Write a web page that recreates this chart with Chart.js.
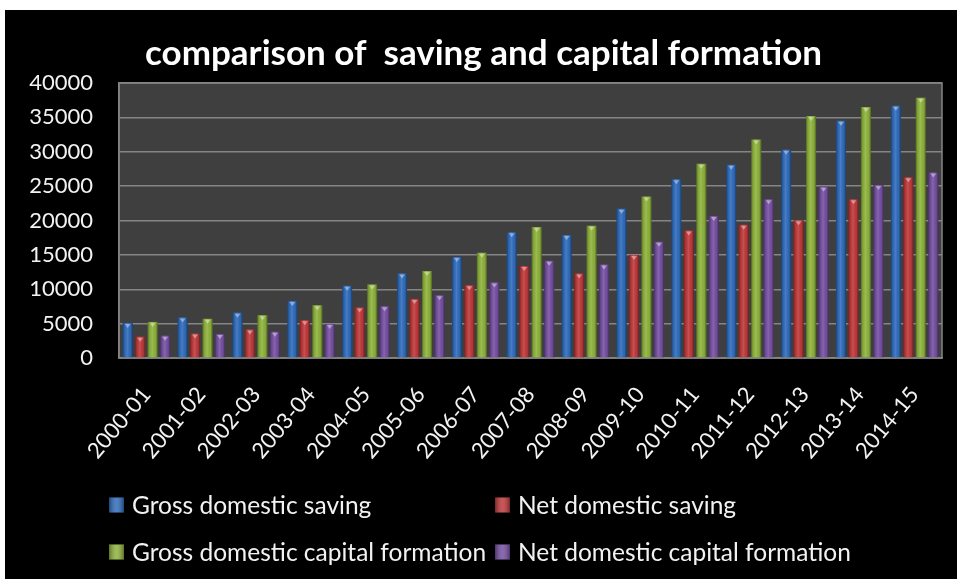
<!DOCTYPE html>
<html>
<head>
<meta charset="utf-8">
<script src="https://cdn.jsdelivr.net/npm/chart.js@4.4.1/dist/chart.umd.min.js"></script>
<style>
  html, body { margin: 0; padding: 0; background: #fff; }
  #frame { position: absolute; left: 5px; top: 10px; width: 952px; height: 569px; background: #000; }
</style>
</head>
<body>
<div id="frame"><canvas id="chart" width="952" height="569"></canvas></div>
<script>
// years
var years = ["2000-01", "2001-02", "2002-03", "2003-04", "2004-05", "2005-06", "2006-07", "2007-08",
             "2008-09", "2009-10", "2010-11", "2011-12", "2012-13", "2013-14", "2014-15"];

var grossSaving = [5100, 5900, 6600, 8300, 10500, 12300, 14700, 18300, 17900, 21700, 26000, 28100, 30300, 34500, 36700];
var netSaving = [3100, 3550, 4150, 5500, 7350, 8600, 10600, 13400, 12300, 15000, 18550, 19400, 20050, 23100, 26300];
var grossCapital = [5250, 5700, 6230, 7680, 10700, 12650, 15300, 19050, 19230, 23500, 28250, 31800, 35200, 36500, 37850];
var netCapital = [3250, 3480, 3820, 4930, 7540, 9130, 11000, 14150, 13600, 16900, 20650, 23100, 24900, 25150, 27000];

var seriesNames = ["Gross domestic saving", "Net domestic saving",
                   "Gross domestic capital formation", "Net domestic capital formation"];
var seriesColors = ["#2f6cbd", "#c0393a", "#8fb43c", "#7650a3"];

var yMin = 0, yMax = 40000, yStep = 5000;

var txt = "#f2f2f2";
var gridCol = "#858585";
var fontFam = "Lato, 'Open Sans', sans-serif";

// grey plot background + frame
var plotBg = {
  id: "plotBg",
  beforeDraw: function(chart) {
    var a = chart.chartArea, c = chart.ctx;
    c.save();
    c.fillStyle = "#3f3f3f";
    c.fillRect(a.left, a.top, a.right - a.left, a.bottom - a.top);
    c.strokeStyle = gridCol;
    c.lineWidth = 1.5;
    c.strokeRect(a.left, a.top, a.right - a.left, a.bottom - a.top);
    c.restore();
  }
};

// shading on bars so they look like the excel bevel
var barShade = {
  id: "barShade",
  afterDatasetsDraw: function(chart) {
    var c = chart.ctx;
    c.save();
    chart.data.datasets.forEach(function(ds, di) {
      chart.getDatasetMeta(di).data.forEach(function(b) {
        var l = b.x - b.width / 2, r = b.x + b.width / 2;
        var g = c.createLinearGradient(l, 0, r, 0);
        g.addColorStop(0, "rgba(0,0,0,0.4)");
        g.addColorStop(0.18, "rgba(0,0,0,0.08)");
        g.addColorStop(0.45, "rgba(255,255,255,0.12)");
        g.addColorStop(0.8, "rgba(0,0,0,0.05)");
        g.addColorStop(1, "rgba(0,0,0,0.45)");
        c.fillStyle = g;
        c.fillRect(l, b.y, r - l, b.base - b.y);
        c.fillStyle = "rgba(255,255,255,0.4)";
        c.beginPath();
        c.moveTo(l + 2, b.y + 1);
        c.lineTo(r - 2, b.y + 1);
        c.lineTo(b.x, b.y + 5);
        c.closePath();
        c.fill();
      });
    });
    c.restore();
  }
};

// two column legend like the original
var gridLegend = {
  id: "gridLegend",
  afterDraw: function(chart) {
    var c = chart.ctx;
    var cols = [104, 490], rows = [495, 542];
    c.save();
    c.font = "24.5px " + fontFam;
    c.textBaseline = "middle";
    c.textAlign = "left";
    chart.data.datasets.forEach(function(ds, i) {
      var x = cols[i % 2], y = rows[Math.floor(i / 2)];
      c.fillStyle = ds.backgroundColor;
      c.fillRect(x, y - 7.5, 15, 15);
      var g = c.createLinearGradient(x, 0, x + 15, 0);
      g.addColorStop(0, "rgba(0,0,0,0.35)");
      g.addColorStop(0.5, "rgba(255,255,255,0.15)");
      g.addColorStop(1, "rgba(0,0,0,0.35)");
      c.fillStyle = g;
      c.fillRect(x, y - 7.5, 15, 15);
      c.fillStyle = txt;
      c.fillText(ds.label, x + 23, y + 1);
    });
    c.restore();
  }
};

var datasets = [grossSaving, netSaving, grossCapital, netCapital].map(function(d, i) {
  return {
    label: seriesNames[i],
    data: d,
    backgroundColor: seriesColors[i],
    borderWidth: 0,
    barPercentage: 0.8,
    categoryPercentage: 0.91
  };
});

new Chart(document.getElementById("chart").getContext("2d"), {
  type: "bar",
  data: { labels: years, datasets: datasets },
  options: {
    responsive: false,
    animation: false,
    devicePixelRatio: 1,
    layout: { padding: { left: 20, right: 15, top: 0, bottom: 101 } },
    plugins: {
      legend: { display: false },
      tooltip: { enabled: false },
      title: {
        display: true,
        text: "comparison of  saving and capital formation",
        color: "#fff",
        font: { family: fontFam, size: 35, weight: "bold" },
        padding: { top: 23, bottom: 8 }
      }
    },
    scales: {
      x: {
        grid: { display: false },
        border: { color: gridCol, width: 1.5 },
        ticks: {
          color: txt,
          font: { family: fontFam, size: 22 },
          minRotation: 50,
          maxRotation: 50,
          autoSkip: false,
          padding: 16
        },
        afterFit: function(s) { s.height = 120; }
      },
      y: {
        min: yMin,
        max: yMax,
        grid: { color: gridCol, lineWidth: 1.5, drawTicks: false },
        border: { color: gridCol, width: 1.5 },
        ticks: {
          stepSize: yStep,
          color: txt,
          font: { family: fontFam, size: 22 },
          padding: 26,
          format: { useGrouping: false }
        },
        afterFit: function(s) { s.width = 94; }
      }
    }
  },
  plugins: [plotBg, barShade, gridLegend]
});
</script>
</body>
</html>
